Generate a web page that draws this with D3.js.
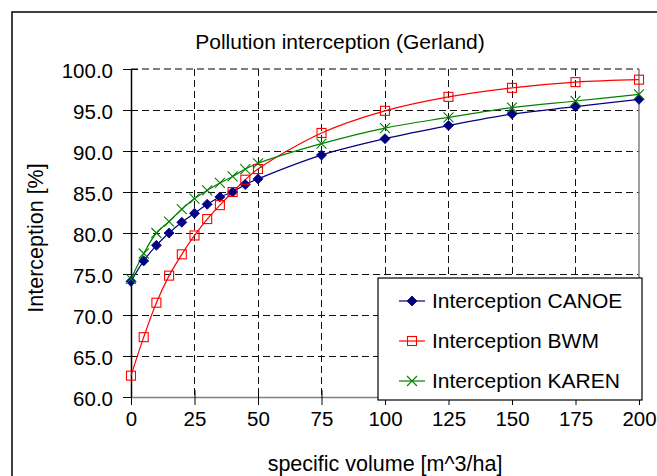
<!DOCTYPE html>
<html>
<head>
<meta charset="utf-8">
<script src="https://cdn.jsdelivr.net/npm/d3@7"></script>
<style>
  html, body { margin: 0; padding: 0; background: #fff; }
  svg { display: block; font-family: "Liberation Sans", Arial, sans-serif; }
</style>
</head>
<body>
<svg id="chart" width="657" height="476"></svg>
<script>
const xValues = [0, 5, 10, 15, 20, 25, 30, 35, 40, 45, 50, 75, 100, 125, 150, 175, 200];
const canoe = [74.1, 76.6, 78.5, 80.0, 81.3, 82.4, 83.5, 84.4, 85.0, 85.9, 86.6, 89.5, 91.5, 93.1, 94.5, 95.4, 96.3];
const bwm   = [62.6, 67.3, 71.5, 74.8, 77.4, 79.7, 81.7, 83.4, 85.0, 86.5, 87.8, 92.2, 94.9, 96.6, 97.7, 98.4, 98.7];
const karen = [74.4, 77.5, 80.0, 81.4, 82.9, 84.2, 85.2, 86.1, 86.9, 87.8, 88.5, 90.9, 92.8, 94.1, 95.3, 96.1, 96.9];
const xTicks = [0, 25, 50, 75, 100, 125, 150, 175, 200];
const yTicks = [60, 65, 70, 75, 80, 85, 90, 95, 100];
const seriesNames = ["Interception CANOE", "Interception BWM", "Interception KAREN"];
const titleText = "Pollution interception (Gerland)";
const xLabel = "specific volume [m^3/ha]";
const yLabel = "Interception [%]";

const svg = d3.select("#chart");
const L = 131, R = 639, T = 69, B = 397;
const x = d3.scaleLinear().domain([0, 200]).range([L, R]);
const y = d3.scaleLinear().domain([60, 100]).range([B, T]);

// outer border
svg.append("rect").attr("x", 12).attr("y", 12).attr("width", 700).attr("height", 500)
  .attr("fill", "#fff").attr("stroke", "#000").attr("stroke-width", 1.5);

// title
svg.append("text").attr("x", 340).attr("y", 49).attr("text-anchor", "middle")
  .attr("font-size", 21).attr("fill", "#000").text(titleText);

// gridlines
const g = svg.append("g");
yTicks.filter(v => v > 60).forEach(v => {
  g.append("line").attr("x1", L).attr("x2", R).attr("y1", y(v)).attr("y2", y(v))
    .attr("stroke", v === 100 ? "#808080" : "#111").attr("stroke-width", v === 100 ? 1.5 : 1)
    .attr("stroke-dasharray", "7,4").attr("shape-rendering", "crispEdges");
});
xTicks.filter(v => v > 0 && v < 200).forEach(v => {
  g.append("line").attr("x1", x(v)).attr("x2", x(v)).attr("y1", T).attr("y2", B)
    .attr("stroke", "#111").attr("stroke-width", 1)
    .attr("stroke-dasharray", "7,4").attr("shape-rendering", "crispEdges");
});
// right border of plot
g.append("line").attr("x1", R).attr("x2", R).attr("y1", T).attr("y2", B)
  .attr("stroke", "#808080").attr("stroke-width", 1.5);

// y axis
const yAxis = d3.axisLeft(y).tickValues(yTicks).tickFormat(d3.format(".1f")).tickSizeInner(8).tickSizeOuter(0).tickPadding(10);
const ya = svg.append("g").attr("transform", `translate(${L},0)`).call(yAxis);
ya.select(".domain").attr("stroke", "#000").attr("stroke-width", 1.5);
ya.selectAll(".tick line").attr("x2", -8).attr("x1", 7).attr("stroke", "#000");
ya.selectAll(".tick text").attr("font-size", 20.5).attr("font-family", "Liberation Sans, Arial, sans-serif")
  .attr("fill", "#000").attr("dy", "0.4em");

// x axis
const xAxis = d3.axisBottom(x).tickValues(xTicks).tickSizeInner(8).tickSizeOuter(0).tickPadding(20);
const xa = svg.append("g").attr("transform", `translate(0,${B})`).call(xAxis);
xa.select(".domain").attr("stroke", "#808080").attr("stroke-width", 1.5);
xa.selectAll(".tick line").attr("y1", -7).attr("y2", 8).attr("stroke", "#000");
xa.selectAll(".tick text").attr("font-size", 20.5).attr("font-family", "Liberation Sans, Arial, sans-serif")
  .attr("fill", "#000").attr("dy", "0.71em").attr("y", 14);

// axis labels
svg.append("text").attr("x", 385).attr("y", 471).attr("text-anchor", "middle")
  .attr("font-size", 21.5).attr("fill", "#000").text(xLabel);
svg.append("text").attr("transform", "translate(43,238) rotate(-90)").attr("text-anchor", "middle")
  .attr("font-size", 21.5).attr("fill", "#000").text(yLabel);

// series
const series = [
  { name: seriesNames[0], vals: canoe, color: "#000080", marker: "diamond" },
  { name: seriesNames[1], vals: bwm, color: "#FF0000", marker: "square" },
  { name: seriesNames[2], vals: karen, color: "#008000", marker: "cross" }
];
const line = d3.line().x(d => x(d[0])).y(d => y(d[1])).curve(d3.curveCatmullRom.alpha(0.5));

function drawMarker(sel, type, color, cx, cy) {
  if (type === "diamond") {
    sel.append("path").attr("d", `M${cx},${cy - 5}L${cx + 5},${cy}L${cx},${cy + 5}L${cx - 5},${cy}Z`)
      .attr("fill", color).attr("stroke", color).attr("stroke-width", 0.8);
  } else if (type === "square") {
    sel.append("rect").attr("x", cx - 4.5).attr("y", cy - 4.5).attr("width", 9).attr("height", 9)
      .attr("fill", "none").attr("stroke", color).attr("stroke-width", 1.1);
  } else {
    sel.append("path").attr("d", `M${cx - 5},${cy - 5}L${cx + 5},${cy + 5}M${cx - 5},${cy + 5}L${cx + 5},${cy - 5}`)
      .attr("fill", "none").attr("stroke", color).attr("stroke-width", 1.1);
  }
}

const sg = svg.append("g");
series.forEach(s => {
  const pts = xValues.map((xv, i) => [xv, s.vals[i]]);
  sg.append("path").attr("d", line(pts)).attr("fill", "none").attr("stroke", s.color).attr("stroke-width", 1.2);
});
series.forEach(s => {
  const mg = sg.append("g");
  xValues.forEach((xv, i) => drawMarker(mg, s.marker, s.color, x(xv), y(s.vals[i])));
});

// legend
const lg = svg.append("g");
lg.append("rect").attr("x", 378).attr("y", 278).attr("width", 264).attr("height", 122)
  .attr("fill", "#fff").attr("stroke", "#000").attr("stroke-width", 1.2);
series.forEach((s, i) => {
  const cy = 301 + i * 40;
  lg.append("line").attr("x1", 399).attr("x2", 425).attr("y1", cy).attr("y2", cy)
    .attr("stroke", s.color).attr("stroke-width", 1.2);
  drawMarker(lg, s.marker, s.color, 412, cy);
  lg.append("text").attr("x", 432).attr("y", cy + 7).attr("font-size", 21).attr("fill", "#000").text(s.name);
});
</script>
</body>
</html>
